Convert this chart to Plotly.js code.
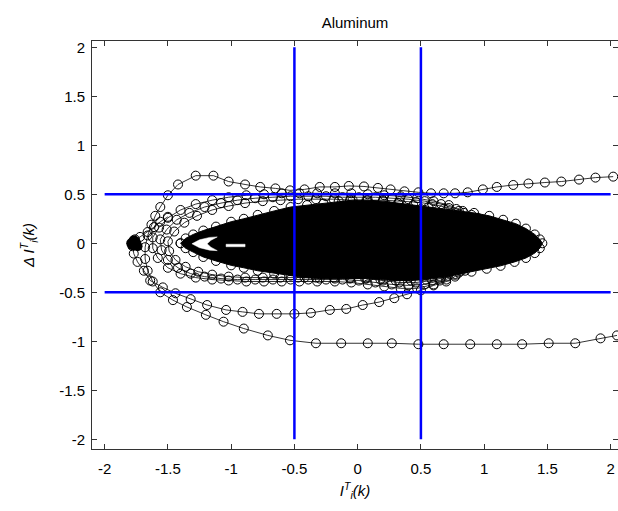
<!DOCTYPE html>
<html><head><meta charset="utf-8">
<script src="https://cdn.plot.ly/plotly-3.0.1.min.js"></script>
<style>html,body{margin:0;padding:0;background:#fff}</style>
</head><body><div id="chart" style="width:618px;height:511px"></div>
<script>
// ---- data ----
var tickVals = [-2,-1.5,-1,-0.5,0,0.5,1,1.5,2];
var tickText = ['-2','-1.5','-1','-0.5','0','0.5','1','1.5','2'];

// outer trajectory (enters lower right, leaves upper right)
var outerX = [2.05,1.92,1.72,1.51,1.30,1.10,0.89,0.68,0.48,0.27,0.08,-0.13,-0.33,-0.535,-0.71,-0.90,-1.06,-1.20,-1.35,-1.46,-1.56,-1.62,-1.66,-1.68,-1.68,-1.66,-1.63,-1.60,-1.56,-1.50,-1.42,-1.28,-1.14,-1.02,-0.89,-0.77,-0.65,-0.535,-0.42,-0.30,-0.18,-0.07,0.05,0.16,0.26,0.37,0.48,0.58,0.68,0.77,0.87,0.99,1.10,1.23,1.35,1.48,1.61,1.75,1.88,2.02];
var outerY = [-0.94,-0.97,-1.02,-1.02,-1.03,-1.03,-1.03,-1.03,-1.03,-1.02,-1.02,-1.02,-1.02,-0.99,-0.94,-0.87,-0.80,-0.73,-0.65,-0.58,-0.50,-0.39,-0.28,-0.16,-0.04,0.08,0.19,0.28,0.37,0.49,0.60,0.69,0.69,0.63,0.60,0.575,0.56,0.54,0.55,0.575,0.575,0.585,0.58,0.565,0.55,0.53,0.52,0.51,0.51,0.51,0.52,0.55,0.575,0.595,0.61,0.62,0.63,0.65,0.67,0.68];

// second trajectory (lower arc at about -0.7)
var midX = [0.85,0.77,0.70,0.60,0.50,0.39,0.29,0.17,0.04,-0.09,-0.22,-0.37,-0.50,-0.64,-0.78,-0.91,-1.04,-1.19,-1.32,-1.44,-1.54,-1.64,-1.69,-1.74,-1.77,-1.78,-1.78,-1.77,-1.76,-1.72,-1.66,-1.61,-1.56,-1.50];
var midY = [-0.28,-0.34,-0.39,-0.43,-0.48,-0.52,-0.56,-0.60,-0.63,-0.67,-0.68,-0.71,-0.72,-0.72,-0.72,-0.70,-0.68,-0.63,-0.57,-0.51,-0.45,-0.38,-0.28,-0.19,-0.105,-0.03,0.0,0.02,0.04,0.065,0.115,0.165,0.22,0.27];

// dense cluster at the left tip
var tipX = [-1.79,-1.78,-1.77,-1.76,-1.78,-1.75,-1.77,-1.74];
var tipY = [0.0,0.01,-0.01,0.02,-0.02,0.0,0.03,-0.03];

// band of loops around the core
var bandAX = [0.83,0.72,0.60,0.47,0.34,0.21,0.08,-0.05,-0.18,-0.32,-0.46,-0.60,-0.74,-0.88,-1.02,-1.15,-1.28,-1.40,-1.50,-1.57,-1.62,-1.62,-1.58,-1.50,-1.40,-1.28,-1.15,-1.02,-0.88,-0.74,-0.60,-0.46,-0.32,-0.18,-0.05,0.08,0.21,0.34,0.47,0.60,0.70,0.80,0.88];
var bandAY = [0.33,0.39,0.43,0.46,0.48,0.49,0.50,0.51,0.51,0.51,0.51,0.51,0.50,0.49,0.47,0.44,0.40,0.34,0.26,0.16,0.06,-0.05,-0.15,-0.25,-0.31,-0.35,-0.37,-0.38,-0.39,-0.39,-0.39,-0.39,-0.39,-0.39,-0.40,-0.42,-0.44,-0.46,-0.46,-0.42,-0.37,-0.30,-0.22];
var bandBX = [0.90,0.78,0.66,0.53,0.40,0.27,0.14,0.01,-0.12,-0.25,-0.39,-0.53,-0.67,-0.81,-0.95,-1.08,-1.21,-1.33,-1.43,-1.51,-1.56,-1.55,-1.50,-1.42,-1.32,-1.21,-1.08,-0.95,-0.81,-0.67,-0.53,-0.39,-0.25,-0.12,0.01,0.14,0.27,0.40,0.53,0.65,0.76,0.86];
var bandBY = [0.29,0.35,0.40,0.43,0.45,0.46,0.47,0.47,0.47,0.48,0.48,0.48,0.47,0.46,0.44,0.41,0.37,0.31,0.24,0.14,0.04,-0.07,-0.17,-0.25,-0.31,-0.34,-0.36,-0.37,-0.37,-0.37,-0.37,-0.37,-0.37,-0.37,-0.38,-0.40,-0.42,-0.43,-0.42,-0.38,-0.32,-0.25];
var bandCX = [0.95,0.84,0.72,0.59,0.46,0.33,0.20,0.07,-0.06,-0.19,-0.33,-0.47,-0.61,-0.75,-0.89,-1.02,-1.15,-1.27,-1.37,-1.45,-1.50,-1.49,-1.44,-1.36,-1.26,-1.15,-1.02,-0.89,-0.75,-0.61,-0.47,-0.33,-0.19,-0.06,0.07,0.20,0.33,0.46,0.59,0.71,0.82,0.92];
var bandCY = [0.26,0.31,0.36,0.40,0.42,0.43,0.44,0.44,0.44,0.45,0.45,0.45,0.44,0.43,0.41,0.38,0.34,0.28,0.21,0.12,0.02,-0.08,-0.17,-0.24,-0.29,-0.32,-0.34,-0.35,-0.35,-0.35,-0.35,-0.35,-0.35,-0.35,-0.36,-0.38,-0.40,-0.40,-0.38,-0.34,-0.28,-0.21];

// solid core outline
var coreX = [-1.40,-1.36,-1.30,-1.22,-1.12,-1.00,-0.90,-0.79,-0.66,-0.53,-0.40,-0.27,-0.15,-0.04,0.08,0.20,0.32,0.44,0.56,0.68,0.80,0.92,1.04,1.15,1.25,1.33,1.40,1.44,1.46,1.44,1.40,1.33,1.24,1.13,1.02,0.90,0.78,0.66,0.54,0.42,0.30,0.18,0.06,-0.06,-0.18,-0.30,-0.42,-0.53,-0.66,-0.79,-0.90,-1.00,-1.12,-1.22,-1.30,-1.36,-1.40];
var coreY = [0.0,0.05,0.09,0.13,0.17,0.22,0.25,0.29,0.33,0.37,0.39,0.405,0.43,0.44,0.44,0.43,0.41,0.39,0.37,0.35,0.33,0.31,0.28,0.24,0.20,0.15,0.09,0.04,0.0,-0.05,-0.10,-0.15,-0.19,-0.23,-0.26,-0.29,-0.32,-0.35,-0.37,-0.38,-0.38,-0.37,-0.36,-0.36,-0.36,-0.36,-0.35,-0.33,-0.31,-0.28,-0.25,-0.225,-0.18,-0.14,-0.09,-0.05,0.0];

// white gaps inside the core
var crescentX = [-1.31,-1.25,-1.17,-1.11,-1.16,-1.19,-1.16,-1.11,-1.17,-1.25,-1.31];
var crescentY = [-0.005,0.035,0.06,0.065,0.03,-0.005,-0.04,-0.075,-0.07,-0.045,-0.005];
var dashX = [-1.04,-0.89,-0.89,-1.04,-1.04];
var dashY = [-0.01,-0.01,-0.035,-0.035,-0.01];

// blue reference lines
var refVals = [-0.5, 0.5];
var refSpan = [-2, 2];

// ---- traces ----
var ringStyle = {
  type:'scatter', mode:'lines+markers', hoverinfo:'skip', showlegend:false,
  line:{color:'#000', width:0.8},
  marker:{symbol:'circle-open', size:9, color:'#000', line:{width:1}}
};
function ring(x, y){ return Object.assign({}, ringStyle, {x:x, y:y}); }

var traces = [];
traces.push({type:'scatter', mode:'lines+markers', x:coreX, y:coreY, fill:'toself',
  fillcolor:'#000', line:{color:'#000', width:1}, hoverinfo:'skip', showlegend:false,
  marker:{symbol:'circle-open', size:9, color:'#000', line:{width:1}}});
traces.push({type:'scatter', mode:'lines', x:crescentX, y:crescentY, fill:'toself',
  fillcolor:'#fff', line:{color:'#fff', width:0.5}, hoverinfo:'skip', showlegend:false});
traces.push({type:'scatter', mode:'lines', x:dashX, y:dashY, fill:'toself',
  fillcolor:'#fff', line:{color:'#fff', width:0.5}, hoverinfo:'skip', showlegend:false});
traces.push(ring(bandAX, bandAY));
traces.push(ring(bandBX, bandBY));
traces.push(ring(bandCX, bandCY));
traces.push(ring(midX, midY));
traces.push(ring(outerX, outerY));
traces.push({type:'scatter', mode:'markers', x:tipX, y:tipY, hoverinfo:'skip', showlegend:false,
  marker:{symbol:'circle', size:10, color:'#000'}});

refVals.forEach(function(v){
  traces.push({type:'scatter', mode:'lines', x:[v, v], y:refSpan, hoverinfo:'skip', showlegend:false,
    line:{color:'#0000ff', width:2.5}});
  traces.push({type:'scatter', mode:'lines', x:refSpan, y:[v, v], hoverinfo:'skip', showlegend:false,
    line:{color:'#0000ff', width:2.5}});
});

var font = {family:'Liberation Sans, Arial, sans-serif', size:15, color:'#000'};
var axisCommon = {
  tickvals:tickVals, ticktext:tickText, ticks:'inside', ticklen:5, tickwidth:1, tickcolor:'#333',
  showline:true, linecolor:'#333', linewidth:1, mirror:'allticks',
  showgrid:false, zeroline:false, tickfont:font, automargin:false
};

var layout = {
  width:618, height:511,
  margin:{l:92, r:0, t:41, b:62},
  paper_bgcolor:'#fff', plot_bgcolor:'#fff',
  font:font,
  title:{text:'Aluminum', font:font, x:0.5, xref:'paper', y:0.955, yref:'container', yanchor:'middle'},
  xaxis:Object.assign({}, axisCommon, {
    range:[-2.1, 2.058],
    ticklabelstandoff:6,
    title:{text:'<i>I</i><sup><i>T</i></sup><sub><i>i</i></sub><i>(k)</i>', font:font, standoff:9}
  }),
  yaxis:Object.assign({}, axisCommon, {
    range:[-2.099, 2.064],
    ticklabelstandoff:3,
    title:{text:'<i>\u0394 I</i><sup><i>T</i></sup><sub><i>i</i></sub><i>(k)</i>', font:font, standoff:20}
  })
};

Plotly.newPlot('chart', traces, layout, {staticPlot:true, displayModeBar:false});
</script></body></html>
